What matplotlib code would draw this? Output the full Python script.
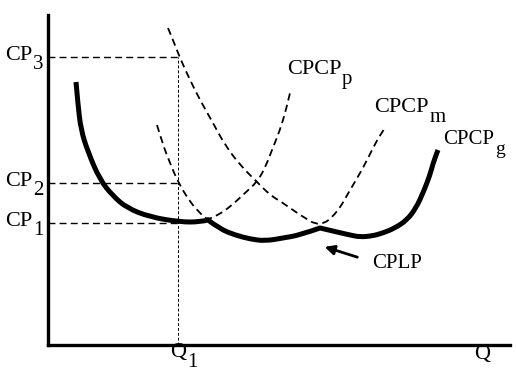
import matplotlib
matplotlib.use("Agg")
import matplotlib.pyplot as plt
from matplotlib.path import Path
from matplotlib.patches import PathPatch

# curve points (Q, cost)
lp_q = [28, 30, 33, 40, 52, 65, 79, 102, 132, 152, 160, 172, 187, 202, 217, 235,
        252, 272, 289, 302, 312, 324, 335, 347, 359, 368, 375, 382, 386, 390]
lp_c = [263, 240, 215, 193, 165, 149, 137, 128, 123, 123, 125, 116, 110, 106, 104, 107,
        110, 117, 113, 110, 108, 109, 112, 117, 125, 137, 152, 170, 185, 195]
lp_joins = [10, 17]  # where the envelope switches plant size

p_q = [109, 115, 122, 130, 142, 152, 159, 170, 182, 197, 209, 217, 224, 232, 238, 242]
p_c = [220, 200, 182, 163, 143, 132, 125, 130, 138, 152, 163, 177, 195, 215, 235, 252]

m_q = [120, 127, 132, 142, 152, 165, 177, 192, 209, 222, 235, 252, 272, 289, 302, 314, 324, 332, 337]
m_c = [317, 300, 287, 265, 245, 222, 200, 180, 163, 150, 142, 130, 118, 132, 155, 175, 195, 210, 217]

q1 = 130
cp_levels = [122, 162, 288]
cp_subs = ["1", "2", "3"]

serif = "Liberation Serif"

fig = plt.figure(figsize=(5.16, 3.75), dpi=100)
ax = fig.add_axes([48 / 516, 30 / 375, 462 / 516, 330 / 375])
ax.set_xlim(0, 462)
ax.set_ylim(0, 330)
for s in ["top", "right"]:
    ax.spines[s].set_visible(False)
for s in ["left", "bottom"]:
    ax.spines[s].set_linewidth(2.4)
ax.set_xticks([])
ax.set_yticks([])


def smooth_path(xs, ys, cuts=()):
    # quadratic bezier through the midpoints, read points act as controls;
    # at the cut indices the curve passes exactly through the point (kink)
    pts = list(zip(xs, ys))
    verts = [pts[0]]
    codes = [Path.MOVETO]
    n = len(pts)
    for i in range(1, n - 1):
        if i in cuts:
            verts.append(pts[i])
            codes.append(Path.LINETO)
            continue
        nxt = pts[i + 1]
        if i + 1 in cuts or i + 1 == n - 1:
            end = nxt
        else:
            end = ((pts[i][0] + nxt[0]) / 2, (pts[i][1] + nxt[1]) / 2)
        verts += [pts[i], end]
        codes += [Path.CURVE3, Path.CURVE3]
    if verts[-1] != pts[-1]:
        verts.append(pts[-1])
        codes.append(Path.LINETO)
    return Path(verts, codes)


def smooth(xs, ys, cuts=(), **kw):
    ax.add_patch(PathPatch(smooth_path(xs, ys, cuts), fill=False, **kw))


# guide lines
for c in cp_levels:
    ax.plot([0, q1], [c, c], color="k", lw=1.0, ls=(0, (5, 3)))
ax.plot([q1, q1], [0, max(cp_levels)], color="k", lw=0.7, ls=(0, (3, 2)))

# short-run curves and envelope
smooth(p_q, p_c, color="k", lw=1.3, ls=(0, (4, 2.5)))
smooth(m_q, m_c, color="k", lw=1.3, ls=(0, (4, 2.5)))
smooth(lp_q, lp_c, cuts=lp_joins, color="k", lw=3.6, capstyle="butt", joinstyle="round")


def label(x, y, main, sub, size=16, subsize=15, dy=-7):
    t = ax.text(x, y, main, fontsize=size, family=serif, va="center", ha="left", clip_on=False)
    if sub:
        ax.annotate(sub, xy=(1, 0), xycoords=t, xytext=(0.5, dy), textcoords="offset points",
                    fontsize=subsize, family=serif, va="bottom", ha="left")
    return t


for c, s in zip(cp_levels, cp_subs):
    label(-43, c + 2, "CP", s)
label(122, -8, "Q", "1")
label(426, -10, "Q", None)
label(239, 275, "CPCP", "p")
label(326, 237, "CPCP", "m")
label(395, 206, "CPCP", "g", size=15, subsize=14)
label(324, 82, "CPLP", None, size=15)

ax.annotate("", xy=(274, 99), xytext=(312, 87),
            arrowprops=dict(arrowstyle="-|>", lw=2, color="k", mutation_scale=14))

fig.savefig("out.png", dpi=100)
